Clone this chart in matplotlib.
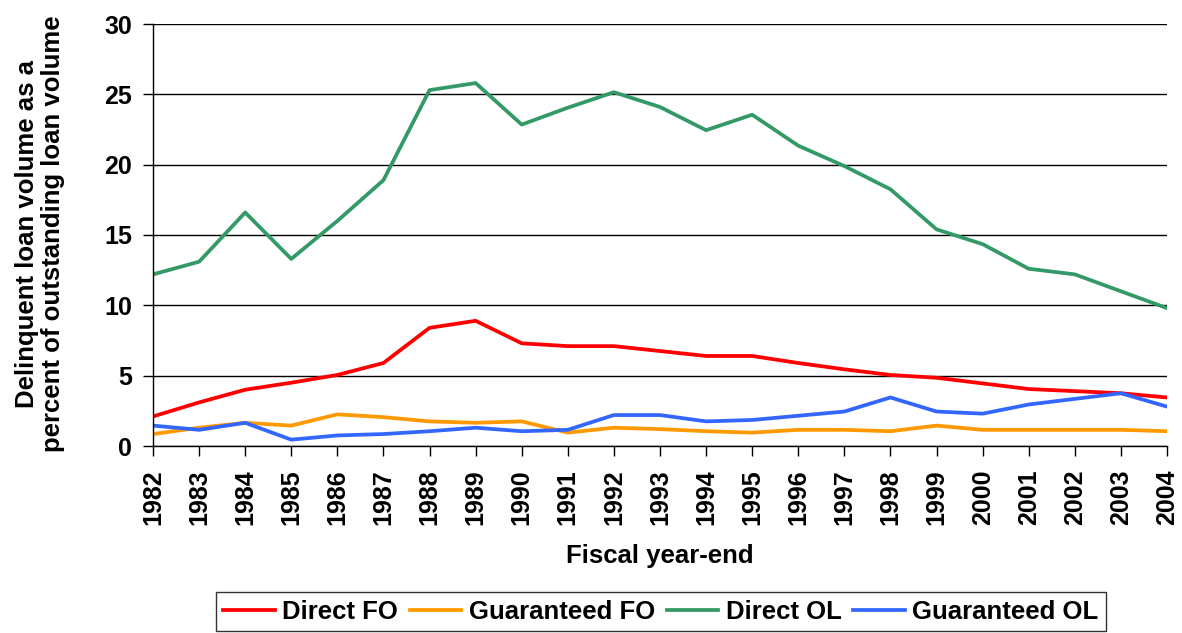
import matplotlib
matplotlib.use("Agg")
import matplotlib.pyplot as plt

plt.rcParams['font.family'] = ['Liberation Sans', 'DejaVu Sans']
plt.rcParams['font.weight'] = 'bold'

# Data
years = list(range(1982, 2005))
direct_fo = [2.1, 3.1, 4.0, 4.5, 5.05, 5.9, 8.4, 8.9, 7.3, 7.1, 7.1, 6.75,
             6.4, 6.4, 5.9, 5.45, 5.05, 4.85, 4.45, 4.05, 3.9, 3.75, 3.45]
guaranteed_fo = [0.85, 1.3, 1.65, 1.45, 2.25, 2.05, 1.75, 1.65, 1.75, 0.95, 1.3, 1.2,
                 1.05, 0.95, 1.15, 1.15, 1.05, 1.45, 1.15, 1.15, 1.15, 1.15, 1.05]
direct_ol = [12.2, 13.1, 16.6, 13.3, 16.0, 18.9, 25.3, 25.8, 22.85, 24.05, 25.15, 24.1,
             22.45, 23.55, 21.35, 19.9, 18.25, 15.4, 14.35, 12.6, 12.2, 11.0, 9.8]
guaranteed_ol = [1.45, 1.15, 1.65, 0.45, 0.75, 0.85, 1.05, 1.3, 1.05, 1.15, 2.2, 2.2,
                 1.75, 1.85, 2.15, 2.45, 3.45, 2.45, 2.3, 2.95, 3.35, 3.75, 2.8]

series = [
    ("Direct FO", direct_fo, "#FF0000"),
    ("Guaranteed FO", guaranteed_fo, "#FF9900"),
    ("Direct OL", direct_ol, "#339966"),
    ("Guaranteed OL", guaranteed_ol, "#3366FF"),
]

W, H = 1182, 633
fig = plt.figure(figsize=(W / 100, H / 100), dpi=100)
ax = fig.add_axes([153 / W, 1 - 446 / H, 1014 / W, 422 / H])

for name, vals, col in series:
    ax.plot(years, vals, color=col, linewidth=2.7, label=name)

ax.set_xlim(1982, 2004)
ax.set_ylim(0, 30)
ax.set_yticks(range(0, 31, 5))
ax.set_xticks(years)
ax.set_xticklabels([str(y) for y in years], rotation=90, fontsize=18, fontweight='bold')
ax.tick_params(axis='y', labelsize=18, direction='out', length=7, width=1, pad=8)
ax.tick_params(axis='x', direction='out', length=7, width=1, pad=10)
ax.grid(axis='y', color='black', linewidth=1)
ax.set_axisbelow(True)
for s in ['top', 'right']:
    ax.spines[s].set_visible(False)
for s in ['left', 'bottom']:
    ax.spines[s].set_color('black')
    ax.spines[s].set_linewidth(1)

fig.text(660 / W, 1 - 556 / H, "Fiscal year-end", fontsize=18.5, fontweight='bold',
         ha='center', va='center')
fig.text(40 / W, 1 - 234 / H, "Delinquent loan volume as a\npercent of outstanding loan volume",
         fontsize=18.5, fontweight='bold', rotation=90, ha='center', va='center',
         multialignment='center', linespacing=1.15)

leg = fig.legend(loc='upper center', bbox_to_anchor=(661 / W, 1 - 592 / H), ncol=4,
                 frameon=True, fancybox=False, edgecolor='black', fontsize=18.5,
                 handlelength=2.0, handletextpad=0.3, columnspacing=0.45,
                 borderpad=0.3, borderaxespad=0)
leg.get_frame().set_linewidth(1)

fig.savefig("out.png", dpi=100)
